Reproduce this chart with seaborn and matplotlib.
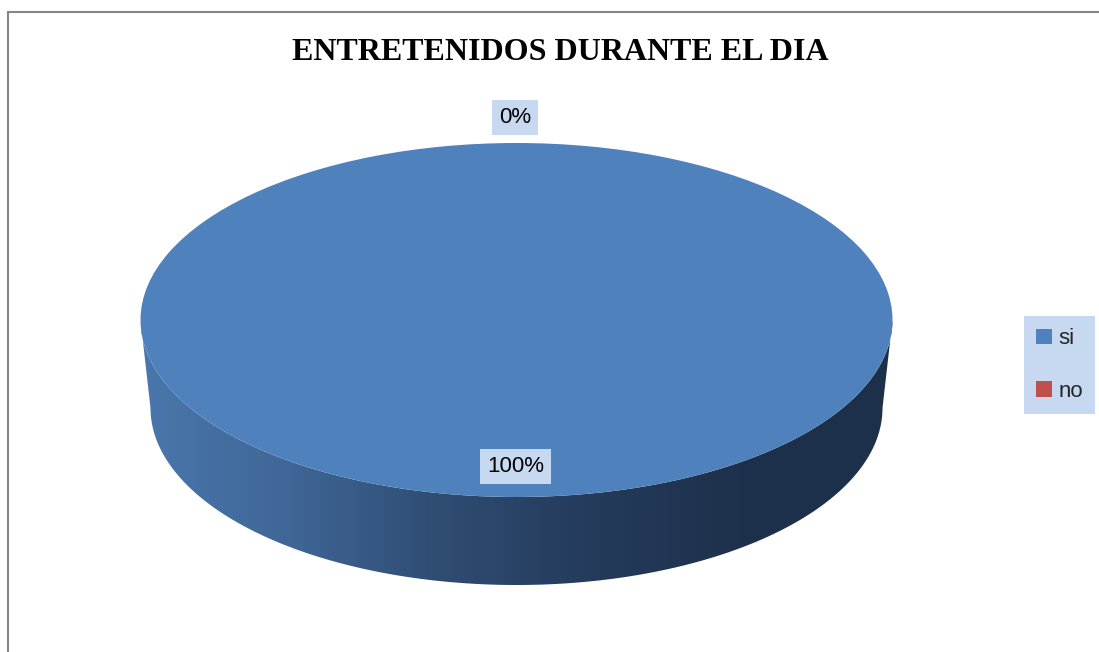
import numpy as np
import matplotlib
matplotlib.use("Agg")
import matplotlib.pyplot as plt
import seaborn as sns
from matplotlib.path import Path
from matplotlib.patches import PathPatch, Rectangle
from matplotlib.colors import LinearSegmentedColormap

# ---- data ----
title = "ENTRETENIDOS DURANTE EL DIA"
categories = ["si", "no"]
values = [100, 0]
colors = ["#4F81BD", "#C0504D"]

sns.set_theme(style="white")
plt.rcParams["font.family"] = ["Liberation Sans", "DejaVu Sans"]

W, H = 1099, 652
fig = plt.figure(figsize=(W / 100, H / 100), dpi=100)
fig.patch.set_facecolor("white")

# pixel geometry of the top face ellipse
cx_px, cy_px = 516.5, 320.0
rx_px, ry_px = 376.0, 177.0
depth_px = 88.0
d = depth_px / ry_px
narrow = 366.0 / 376.0  # perspective narrowing of the bottom rim

# axes covering the pie (top face + extruded side)
ax = fig.add_axes([(cx_px - rx_px) / W, (H - cy_px - ry_px - depth_px) / H,
                   2 * rx_px / W, (2 * ry_px + depth_px) / H])
wedges, _ = ax.pie(values, colors=colors, startangle=90, counterclock=False,
                   wedgeprops=dict(linewidth=0, zorder=3))
ax.axis("off")

# 3D side of the pie (extruded lower half of the ellipse)
t = np.linspace(np.pi, 2 * np.pi, 300)
top = np.column_stack([np.cos(t), np.sin(t)])
bot = np.column_stack([narrow * np.cos(t[::-1]), np.sin(t[::-1]) - d])
verts = np.vstack([top, bot, top[:1]])
codes = [Path.MOVETO] + [Path.LINETO] * (len(verts) - 2) + [Path.CLOSEPOLY]
side_patch = PathPatch(Path(verts, codes), facecolor="none", edgecolor="none")
ax.add_patch(side_patch)
cmap = LinearSegmentedColormap.from_list(
    "side", ["#4A77AC", "#3F6696", "#2F4C72", "#243B5B", "#1E314C", "#1D304A"])
grad = np.linspace(0, 1, 512).reshape(1, -1)
img = ax.imshow(grad, cmap=cmap, extent=[-1, 1, -1 - d - 0.05, 0.05],
                aspect="auto", zorder=2, interpolation="bicubic")
img.set_clip_path(side_patch)

ax.set_aspect("auto", adjustable="box")
ax.set_autoscale_on(False)
ax.set_xlim(-1, 1)
ax.set_ylim(-1 - d, 1)

# title
fig.text(560.5 / W, 1 - 52 / H, title, ha="center", va="center",
         fontsize=23, fontweight="bold", family=["Liberation Serif", "DejaVu Serif"],
         color="black")

# data labels
box = dict(boxstyle="square,pad=0.3", facecolor="#C6D9F1", edgecolor="none")
total = sum(values)
label_pos = {"no": (515 / W, 1 - 117.5 / H), "si": (515.5 / W, 1 - 466.5 / H)}
for cat, v in zip(categories, values):
    x, y = label_pos[cat]
    fig.text(x, y, f"{v / total * 100:.0f}%", ha="center", va="center",
             fontsize=16, color="black", bbox=box, zorder=5)

# legend
leg = fig.legend(wedges, categories, loc="center left",
                 bbox_to_anchor=(1024 / W, 1 - 365 / H), frameon=True,
                 fontsize=16, handlelength=0.7, handleheight=0.7,
                 handletextpad=0.3, labelspacing=1.4, borderpad=0.55,
                 borderaxespad=0, fancybox=False)
leg.get_frame().set_facecolor("#C6D9F1")
leg.get_frame().set_edgecolor("none")
leg.get_frame().set_alpha(1)

# chart border
fig.add_artist(Rectangle((8 / W, -0.1), 1.2, 1 - 12 / H + 0.1,
                         transform=fig.transFigure, facecolor="none",
                         edgecolor="#868686", linewidth=1.5))

fig.savefig("out.png", dpi=100)
